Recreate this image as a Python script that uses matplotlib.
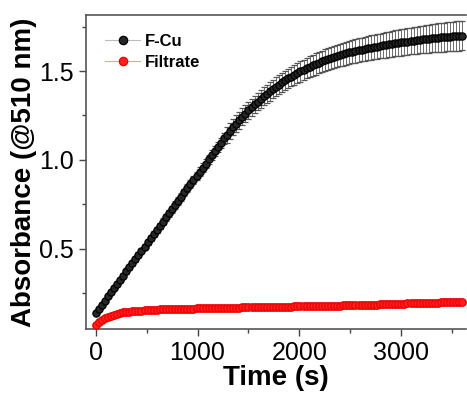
import numpy as np
import matplotlib
matplotlib.use("Agg")
import matplotlib.pyplot as plt
from matplotlib.ticker import MultipleLocator
from matplotlib.lines import Line2D

plt.rcParams['font.family'] = ['Liberation Sans', 'DejaVu Sans']

# time grid (s), one reading every 30 s
time_s = np.arange(0, 3601, 30)

fcu_abs = [
    0.137, 0.160, 0.184, 0.207, 0.231, 0.254, 0.277, 0.301, 0.324, 0.348,
    0.371, 0.394, 0.418, 0.441, 0.465, 0.488, 0.511, 0.535, 0.558, 0.582,
    0.605, 0.628, 0.652, 0.675, 0.699, 0.722, 0.745, 0.769, 0.792, 0.816,
    0.839, 0.862, 0.886, 0.909, 0.933, 0.956, 0.979, 1.003, 1.026, 1.050,
    1.073, 1.096, 1.120, 1.140, 1.162, 1.183, 1.203, 1.223, 1.242, 1.260,
    1.278, 1.295, 1.312, 1.328, 1.343, 1.358, 1.372, 1.386, 1.399, 1.412,
    1.424, 1.436, 1.447, 1.458, 1.469, 1.479, 1.489, 1.498, 1.507, 1.516,
    1.524, 1.532, 1.540, 1.547, 1.554, 1.561, 1.567, 1.573, 1.579, 1.585,
    1.590, 1.595, 1.600, 1.605, 1.609, 1.613, 1.617, 1.621, 1.625, 1.628,
    1.632, 1.635, 1.638, 1.641, 1.644, 1.647, 1.650, 1.653, 1.656, 1.659,
    1.661, 1.664, 1.666, 1.669, 1.671, 1.673, 1.676, 1.678, 1.680, 1.682,
    1.684, 1.686, 1.688, 1.689, 1.691, 1.693, 1.694, 1.696, 1.697, 1.698,
    1.700,
]

fcu_err = [
    0.008, 0.008, 0.009, 0.009, 0.010, 0.010, 0.011, 0.011, 0.012, 0.012,
    0.013, 0.013, 0.014, 0.014, 0.015, 0.015, 0.016, 0.016, 0.017, 0.017,
    0.018, 0.018, 0.019, 0.019, 0.020, 0.020, 0.021, 0.021, 0.022, 0.022,
    0.023, 0.023, 0.024, 0.024, 0.025, 0.025, 0.026, 0.026, 0.027, 0.027,
    0.028, 0.028, 0.029, 0.045, 0.046, 0.046, 0.047, 0.047, 0.048, 0.048,
    0.049, 0.049, 0.050, 0.050, 0.051, 0.051, 0.052, 0.052, 0.053, 0.053,
    0.054, 0.054, 0.055, 0.055, 0.056, 0.056, 0.057, 0.057, 0.058, 0.058,
    0.059, 0.059, 0.060, 0.060, 0.061, 0.061, 0.062, 0.062, 0.063, 0.063,
    0.064, 0.064, 0.065, 0.065, 0.066, 0.066, 0.067, 0.067, 0.068, 0.068,
    0.069, 0.069, 0.070, 0.070, 0.071, 0.071, 0.072, 0.072, 0.073, 0.073,
    0.074, 0.074, 0.075, 0.075, 0.076, 0.076, 0.077, 0.077, 0.078, 0.078,
    0.079, 0.079, 0.080, 0.080, 0.081, 0.081, 0.082, 0.082, 0.083, 0.083,
    0.084,
]

filtrate_abs = [
    0.070, 0.085, 0.097, 0.107, 0.115, 0.122, 0.128, 0.133, 0.137, 0.140,
    0.143, 0.145, 0.147, 0.149, 0.150, 0.151, 0.152, 0.153, 0.154, 0.155,
    0.156, 0.157, 0.157, 0.158, 0.158, 0.159, 0.159, 0.160, 0.160, 0.161,
    0.161, 0.162, 0.162, 0.163, 0.163, 0.164, 0.164, 0.164, 0.165, 0.165,
    0.165, 0.166, 0.166, 0.166, 0.167, 0.167, 0.167, 0.167, 0.168, 0.168,
    0.168, 0.168, 0.169, 0.169, 0.169, 0.169, 0.170, 0.170, 0.170, 0.170,
    0.171, 0.171, 0.171, 0.171, 0.172, 0.174, 0.175, 0.175, 0.175, 0.176,
    0.176, 0.176, 0.177, 0.177, 0.177, 0.178, 0.178, 0.178, 0.179, 0.179,
    0.179, 0.180, 0.180, 0.180, 0.181, 0.181, 0.182, 0.182, 0.182, 0.183,
    0.183, 0.184, 0.184, 0.185, 0.186, 0.186, 0.187, 0.188, 0.188, 0.189,
    0.189, 0.190, 0.191, 0.191, 0.192, 0.192, 0.193, 0.194, 0.194, 0.195,
    0.195, 0.196, 0.196, 0.197, 0.197, 0.198, 0.198, 0.198, 0.199, 0.199,
    0.199,
]

fig = plt.figure(figsize=(4.67, 3.98), dpi=100)
ax = fig.add_axes([0.184, 0.173, 0.814, 0.789])

ax.errorbar(time_s, fcu_abs, yerr=fcu_err, fmt='o-', color='#bbbbbb', lw=0.8,
            mfc='#262626', mec='#000000', ms=5.2, mew=0.9,
            ecolor='#555555', elinewidth=0.6, capsize=2.5, capthick=0.6,
            zorder=3)
ax.plot(time_s, filtrate_abs, 'o-', color='#ff9999', lw=0.8,
        mfc='#ff2020', mec='#ee0000', ms=5.4, mew=0.9, zorder=4)

ax.set_xlim(-95, 3635)
ax.set_ylim(0.046, 1.815)
ax.xaxis.set_major_locator(MultipleLocator(1000))
ax.xaxis.set_minor_locator(MultipleLocator(500))
ax.yaxis.set_major_locator(MultipleLocator(0.5))
ax.yaxis.set_minor_locator(MultipleLocator(0.25))
ax.tick_params(which='both', direction='out', labelsize=18, color='#444444')
ax.tick_params(which='major', length=5, width=1)
ax.tick_params(which='minor', length=3, width=1)
for s in ax.spines.values():
    s.set_color('#555555')
    s.set_linewidth(1.2)
ax.spines['right'].set_visible(False)

ax.set_xlabel('Time (s)', fontsize=20, fontweight='bold', labelpad=0)
ax.set_ylabel('Absorbance (@510 nm)', fontsize=20, fontweight='bold', labelpad=2)

handles = [
    Line2D([], [], marker='o', color='#bbbbbb', lw=0.8, mfc='#262626',
           mec='#000000', ms=6, mew=0.9),
    Line2D([], [], marker='o', color='#ff9999', lw=0.8, mfc='#ff2020',
           mec='#ee0000', ms=6, mew=0.9),
]
ax.legend(handles, ['F-Cu', 'Filtrate'], loc='upper left', frameon=False,
          prop={'weight': 'bold', 'size': 12}, handlelength=2.1,
          handletextpad=0.3, borderaxespad=0.75, labelspacing=0.35)

fig.savefig('out.png', dpi=100)
